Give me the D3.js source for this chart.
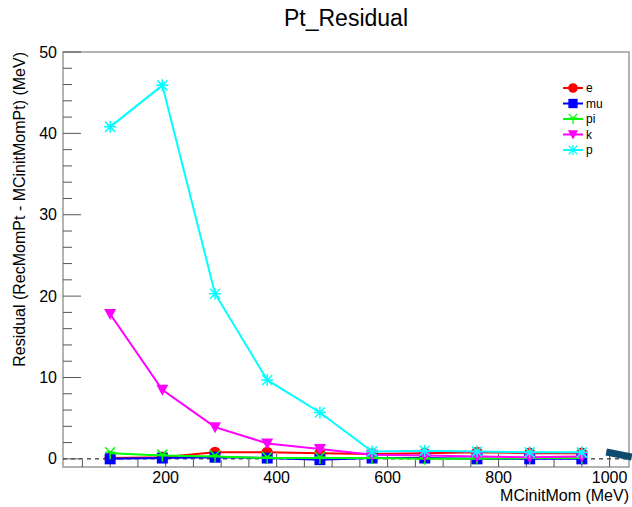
<!DOCTYPE html>
<html>
<head>
<meta charset="utf-8">
<script src="https://cdn.jsdelivr.net/npm/d3@7"></script>
<style>
  body { margin: 0; background: #fff; }
  svg { font-family: "Liberation Sans", Arial, sans-serif; }
</style>
</head>
<body>
<div id="chart"></div>
<script>
// MCinitMom points (MeV)
const momValues = [100, 194, 289, 383, 478, 572, 667, 761, 856, 950];

// residual per particle (MeV)
const eValues  = [0.1, 0.2, 0.8, 0.8, 0.7, 0.6, 0.7, 0.8, 0.7, 0.7];
const muValues = [0.0, 0.1, 0.2, 0.1, -0.1, 0.1, 0.1, 0.0, 0.0, 0.0];
const piValues = [0.7, 0.4, 0.3, 0.1, 0.1, 0.1, 0.0, 0.0, 0.1, 0.1];
const kValues  = [17.8, 8.5, 3.9, 1.9, 1.2, 0.5, 0.4, 0.3, 0.2, 0.3];
const pValues  = [40.8, 45.9, 20.3, 9.7, 5.7, 0.9, 1.0, 0.9, 0.8, 0.8];

// stray thick segment at the right edge
const strayX = [994, 1040];
const strayY = [0.85, 0.23];

const series = [
  {name: 'e',  values: eValues,  color: '#ff0000', symbol: 'circle'},
  {name: 'mu', values: muValues, color: '#0000ff', symbol: 'square'},
  {name: 'pi', values: piValues, color: '#00ff00', symbol: 'wye'},
  {name: 'k',  values: kValues,  color: '#ff00ff', symbol: 'triangle'},
  {name: 'p',  values: pValues,  color: '#00ffff', symbol: 'star'}
];

const xTicks = [200, 400, 600, 800, 1000];
const yTicks = [0, 10, 20, 30, 40, 50];

const config = {
  width: 632, height: 507,
  margin: {top: 52, right: 3, bottom: 40, left: 63}
};

const svg = d3.select('#chart').append('svg')
    .attr('width', config.width)
    .attr('height', config.height);

const x = d3.scaleLinear()
    .domain([15, 1035])
    .range([config.margin.left, config.width - config.margin.right]);

const y = d3.scaleLinear()
    .domain([-1, 50])
    .range([config.height - config.margin.bottom, config.margin.top]);

// symbol paths
function markerPath(type) {
  switch (type) {
    case 'circle':   return d3.symbol(d3.symbolCircle, 100)();
    case 'square':   return d3.symbol(d3.symbolSquare, 120)();
    case 'triangle': return 'M-6,-5L6,-5L0,6Z';
    case 'wye':      return 'M0,6L0,-1M0,-1L-5,-6M0,-1L5,-6M-5,-1L5,-1';
    case 'star':     return 'M-5,-5L5,5M-5,5L5,-5M0,-6L0,6M-6,0L6,0';
  }
}
const strokeOnly = t => t === 'wye' || t === 'star';

// frame
svg.append('rect')
    .attr('x', x.range()[0])
    .attr('y', y.range()[1])
    .attr('width', x.range()[1] - x.range()[0])
    .attr('height', y.range()[0] - y.range()[1])
    .attr('fill', 'none')
    .attr('stroke', '#9a9a9a')
    .attr('stroke-width', 1.5);

// zero line
svg.append('line')
    .attr('x1', x.range()[0]).attr('x2', x.range()[1])
    .attr('y1', y(0)).attr('y2', y(0))
    .attr('stroke', '#000')
    .attr('stroke-width', 1)
    .attr('stroke-dasharray', '4,4');

// x axis: ticks point up into the frame
const xMinor = d3.range(50, 1035, 50);
svg.append('g')
    .attr('transform', `translate(0,${y.range()[0]})`)
    .selectAll('line').data(xMinor).join('line')
    .attr('x1', d => x(d)).attr('x2', d => x(d))
    .attr('y1', 0).attr('y2', d => d % 200 === 0 ? -13 : -7)
    .attr('stroke', '#555').attr('stroke-width', 1);

svg.append('g')
    .selectAll('text').data(xTicks).join('text')
    .attr('x', d => x(d))
    .attr('y', y.range()[0] + 16)
    .attr('text-anchor', 'middle')
    .attr('font-size', 16)
    .text(d => d);

// y axis: ticks point right
const yMinor = d3.range(0, 51, 2);
svg.append('g')
    .attr('transform', `translate(${x.range()[0]},0)`)
    .selectAll('line').data(yMinor).join('line')
    .attr('x1', 0).attr('x2', d => d % 10 === 0 ? 18 : 9)
    .attr('y1', d => y(d)).attr('y2', d => y(d))
    .attr('stroke', '#555').attr('stroke-width', 1);

svg.append('g')
    .selectAll('text').data(yTicks).join('text')
    .attr('x', x.range()[0] - 6)
    .attr('y', d => y(d))
    .attr('dy', '0.35em')
    .attr('text-anchor', 'end')
    .attr('font-size', 16)
    .text(d => d);

// axis titles
svg.append('text')
    .attr('x', x.range()[1])
    .attr('y', 501)
    .attr('text-anchor', 'end')
    .attr('font-size', 16)
    .text('MCinitMom (MeV)');

svg.append('text')
    .attr('transform', `translate(25,${y.range()[1]}) rotate(-90)`)
    .attr('text-anchor', 'end')
    .attr('font-size', 16)
    .text('Residual (RecMomPt - MCinitMomPt) (MeV)');

// title
svg.append('text')
    .attr('x', 346)
    .attr('y', 26)
    .attr('text-anchor', 'middle')
    .attr('font-size', 23)
    .text('Pt_Residual');

// stray segment
svg.append('path')
    .datum(strayX.map((d, i) => [d, strayY[i]]))
    .attr('d', d3.line().x(d => x(d[0])).y(d => y(d[1])))
    .attr('stroke', '#0d4a6e')
    .attr('stroke-width', 7)
    .attr('fill', 'none');

// series
const line = d3.line().x(d => x(d[0])).y(d => y(d[1]));
series.forEach(s => {
  const pts = momValues.map((m, i) => [m, s.values[i]]);
  const g = svg.append('g');
  g.append('path')
      .datum(pts)
      .attr('d', line)
      .attr('fill', 'none')
      .attr('stroke', s.color)
      .attr('stroke-width', 2);
  g.selectAll('.marker').data(pts).join('path')
      .attr('class', 'marker')
      .attr('transform', d => `translate(${x(d[0])},${y(d[1])})`)
      .attr('d', markerPath(s.symbol))
      .attr('fill', strokeOnly(s.symbol) ? 'none' : s.color)
      .attr('stroke', s.color)
      .attr('stroke-width', strokeOnly(s.symbol) ? 1.5 : 0);
});

// legend
const legend = svg.append('g')
    .attr('transform', 'translate(563,88)');
const item = legend.selectAll('g').data(series).join('g')
    .attr('transform', (d, i) => `translate(0,${i * 15.5})`);
item.append('line')
    .attr('x1', 0).attr('x2', 20)
    .attr('stroke', d => d.color)
    .attr('stroke-width', 2);
item.append('path')
    .attr('transform', 'translate(10,0) scale(0.85)')
    .attr('d', d => markerPath(d.symbol))
    .attr('fill', d => strokeOnly(d.symbol) ? 'none' : d.color)
    .attr('stroke', d => d.color)
    .attr('stroke-width', d => strokeOnly(d.symbol) ? 1.5 : 0);
item.append('text')
    .attr('x', 23)
    .attr('dy', '0.35em')
    .attr('font-size', 12)
    .text(d => d.name);
</script>
</body>
</html>
